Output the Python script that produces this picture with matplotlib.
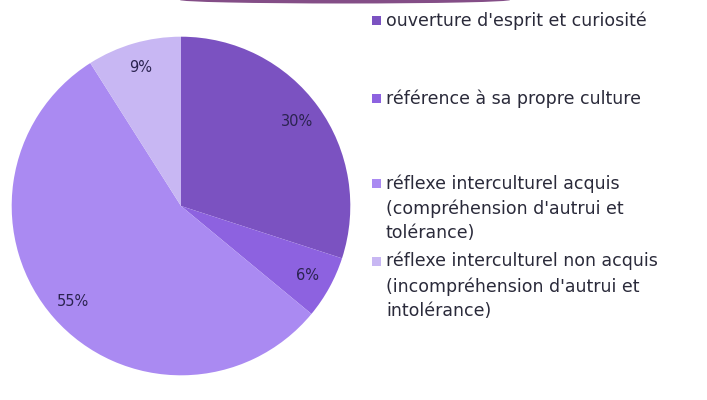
import matplotlib
matplotlib.use('Agg')
import matplotlib.pyplot as plt
from matplotlib.patches import Ellipse, Rectangle

# data
categories = [
    "ouverture d'esprit et curiosité",
    "référence à sa propre culture",
    "réflexe interculturel acquis\n(compréhension d'autrui et\ntolérance)",
    "réflexe interculturel non acquis\n(incompréhension d'autrui et\nintolérance)",
]
values = [30, 6, 55, 9]
colors = ['#7b52c1', '#8d62e0', '#aa8af2', '#c8b7f3']

W, H = 707, 400
fig = plt.figure(figsize=(W / 100, H / 100), dpi=100)
fig.patch.set_facecolor('white')

# decorative curve at the top
fig.patches.append(Ellipse((345 / W, 1.0), 330 / W, 7 / H, transform=fig.transFigure,
                           facecolor='#6e2f72', edgecolor='none', alpha=0.85))

# pie
cx, cy, r = 181, 206, 171
ax = fig.add_axes([(cx - r) / W, (H - cy - r) / H, 2 * r / W, 2 * r / H])
wedges, texts, autotexts = ax.pie(values, colors=colors, startangle=90, counterclock=False,
                                  autopct='%d%%', pctdistance=0.85,
                                  wedgeprops=dict(linewidth=0),
                                  textprops=dict(color='#2b2350', fontsize=10.5))
ax.set_xlim(-1.01, 1.01)
ax.set_ylim(-1.01, 1.01)
ax.set_aspect('equal')
ax.axis('off')

# legend, placed by hand
tops = [21, 99, 184, 262]
for lab, col, ty in zip(categories, colors, tops):
    fig.patches.append(Rectangle((372 / W, 1 - (ty + 4) / H), 9 / W, 9 / H,
                                 transform=fig.transFigure, facecolor=col, edgecolor='none'))
    fig.text(386 / W, 1 - (ty - 10) / H, lab, ha='left', va='top', fontsize=12.5,
             color='#2a2a3a', linespacing=1.45)

fig.savefig('out.png', dpi=100)
